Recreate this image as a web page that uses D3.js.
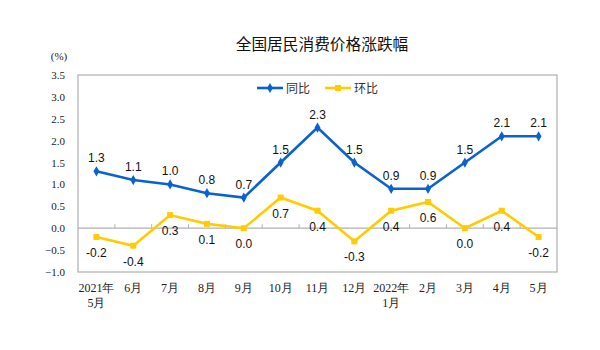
<!DOCTYPE html>
<html><head><meta charset="utf-8">
<script src="https://cdn.jsdelivr.net/npm/d3@7"></script>
<style>body{margin:0;background:#fff}svg{display:block}</style>
</head><body>
<svg id="c" width="600" height="350"></svg>
<script>
const categories = ["2021年\n5月","6月","7月","8月","9月","10月","11月","12月","2022年\n1月","2月","3月","4月","5月"];
const yoy = [1.3,1.1,1.0,0.8,0.7,1.5,2.3,1.5,0.9,0.9,1.5,2.1,2.1];
const mom = [-0.2,-0.4,0.3,0.1,0.0,0.7,0.4,-0.3,0.4,0.6,0.0,0.4,-0.2];
const yTicks = [-1.0,-0.5,0.0,0.5,1.0,1.5,2.0,2.5,3.0,3.5];
const seriesNames = ["同比","环比"];
const title = "全国居民消费价格涨跌幅";

const svg = d3.select("#c");
const L=78, R=557, T=75, B=272;
const x = d3.scaleBand().domain(categories).range([L,R]);
const y = d3.scaleLinear().domain([-1,3.5]).range([B,T]);
const serif = "'Liberation Serif','Times New Roman',serif";
const sans = "'Liberation Sans',Arial,sans-serif";
const cjk = "'Noto Sans CJK SC',sans-serif";

// title
svg.append("text").attr("x",322).attr("y",50).attr("text-anchor","middle")
  .attr("font-family",cjk).attr("font-size",15.7).attr("fill","#111").text(title);
// unit
svg.append("text").attr("x",59).attr("y",60).attr("text-anchor","middle")
  .attr("font-family",serif).attr("font-size",11).attr("fill","#222").text("(%)");

// frame
svg.append("rect").attr("x",L).attr("y",T).attr("width",R-L).attr("height",B-T)
  .attr("fill","none").attr("stroke","#b0b0b0").attr("stroke-width",1.2);

// y axis labels
const yAxis = d3.axisLeft(y).tickValues(yTicks).tickFormat(d3.format(".1f")).tickSize(0).tickPadding(13);
const ya = svg.append("g").attr("transform",`translate(${L},0)`).call(yAxis);
ya.select(".domain").remove();
ya.selectAll("text").attr("font-family",serif).attr("font-size",11).attr("fill","#222");

// zero axis with ticks
const y0 = y(0);
svg.append("line").attr("x1",L).attr("x2",R).attr("y1",y0).attr("y2",y0)
  .attr("stroke","#b0b0b0").attr("stroke-width",1.2);
svg.append("g").selectAll("line").data(categories.slice(1)).join("line")
  .attr("x1",d=>x(d)).attr("x2",d=>x(d)).attr("y1",y0).attr("y2",y0-4)
  .attr("stroke","#b0b0b0").attr("stroke-width",1);

// x labels
const xl = svg.append("g");
categories.forEach(c=>{
  const parts=c.split("\n");
  const t = xl.append("text").attr("x",x(c)+x.bandwidth()/2).attr("y",292)
    .attr("text-anchor","middle").attr("font-family",serif).attr("font-size",12).attr("fill","#222");
  parts.forEach((p,i)=>t.append("tspan").attr("x",x(c)+x.bandwidth()/2).attr("dy",i?15:0).text(p));
});

const cx = d=>x(d)+x.bandwidth()/2;
const line = d3.line().x((d,i)=>cx(categories[i])).y(d=>y(d));
const blue="#0a62d0", yellow="#ffcc00";

// lines
svg.append("path").datum(mom).attr("d",line).attr("fill","none").attr("stroke",yellow).attr("stroke-width",2.6);
svg.append("path").datum(yoy).attr("d",line).attr("fill","none").attr("stroke",blue).attr("stroke-width",2.6);

// markers
svg.append("g").selectAll("rect").data(mom).join("rect")
  .attr("x",(d,i)=>cx(categories[i])-3).attr("y",d=>y(d)-3).attr("width",6).attr("height",6).attr("fill",yellow);
const diamond = d3.symbol().type(d3.symbolDiamond).size(30);
svg.append("g").selectAll("path").data(yoy).join("path")
  .attr("d",diamond).attr("transform",(d,i)=>`translate(${cx(categories[i])},${y(d)})`).attr("fill",blue);

// value labels
svg.append("g").selectAll("text").data(yoy).join("text")
  .attr("x",(d,i)=>cx(categories[i])).attr("y",d=>y(d)-9)
  .attr("text-anchor","middle").attr("font-family",sans).attr("font-size",12).attr("fill","#111")
  .text(d=>d.toFixed(1));
svg.append("g").selectAll("text").data(mom).join("text")
  .attr("x",(d,i)=>cx(categories[i])).attr("y",d=>y(d)+20)
  .attr("text-anchor","middle").attr("font-family",sans).attr("font-size",12).attr("fill","#111")
  .text(d=>d.toFixed(1));

// legend
const lg = svg.append("g");
[[blue,257,"diamond"],[yellow,325,"square"]].forEach(([col,lx,shape],i)=>{
  lg.append("line").attr("x1",lx).attr("x2",lx+26).attr("y1",88).attr("y2",88).attr("stroke",col).attr("stroke-width",2.6);
  if(shape==="diamond") lg.append("path").attr("d",diamond).attr("transform",`translate(${lx+13},88)`).attr("fill",col);
  else lg.append("rect").attr("x",lx+10).attr("y",85).attr("width",6).attr("height",6).attr("fill",col);
  lg.append("text").attr("x",lx+29).attr("y",92.5).attr("font-family",cjk).attr("font-size",12).attr("fill","#333").text(seriesNames[i]);
});
</script>
</body></html>
